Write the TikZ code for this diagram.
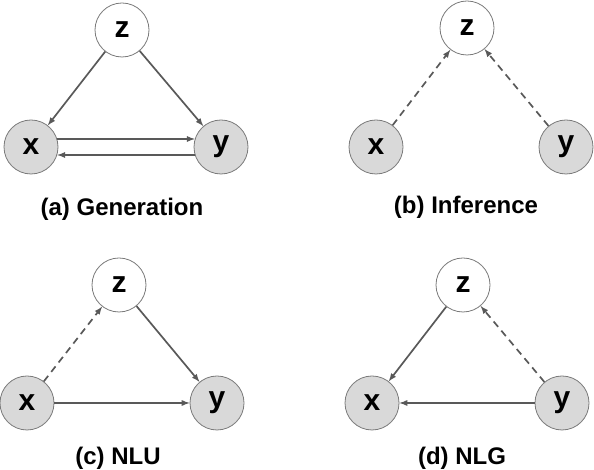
\documentclass[tikz,border=0pt]{standalone}
\usepackage{fontspec}
\setmainfont{Liberation Sans}
\definecolor{edgegray}{HTML}{595959}
\definecolor{obsfill}{HTML}{D9D9D9}
\tikzset{
  latent/.style={circle,draw=edgegray!80,line width=0.8pt,fill=white,minimum size=54pt,inner sep=0pt,font=\fontsize{30}{32}\selectfont\bfseries},
  observed/.style={latent,fill=obsfill},
  caption/.style={font=\fontsize{24}{26}\selectfont\bfseries},
  gen/.style={draw=edgegray,line width=1.7pt,-latex},
  inf/.style={gen,dash pattern=on 7pt off 5pt}
}
\begin{document}
\begin{tikzpicture}[x=1pt,y=1pt]
\useasboundingbox (0,0) rectangle (594,470);
% (a) generation
\node[latent] (za) at (122,440) {z};
\node[observed] (xa) at (31,323) {x};
\node[observed] (ya) at (221,323) {y};
\draw[gen] (za) -- (xa);
\draw[gen] (za) -- (ya);
\draw[gen] (xa.17) -- (ya.163);
\draw[gen] (ya.197) -- (xa.-17);
\node[caption] (capa) at (122,261) {(a) Generation};
% (b) inference
\node[latent] (zb) at (467,442) {z};
\node[observed] (xb) at (376,323) {x};
\node[observed] (yb) at (566,323) {y};
\draw[inf] (xb) -- (zb);
\draw[inf] (yb) -- (zb);
\node[caption] (capb) at (466,263) {(b) Inference};
% (c) NLU
\node[latent] (zc) at (119,185) {z};
\node[observed] (xc) at (27,67) {x};
\node[observed] (yc) at (217,67) {y};
\draw[inf] (xc) -- (zc);
\draw[gen] (zc) -- (yc);
\draw[gen] (xc) -- (yc);
\node[caption] (capc) at (118,12) {(c) NLU};
% (d) NLG
\node[latent] (zd) at (463,185) {z};
\node[observed] (xd) at (372,67) {x};
\node[observed] (yd) at (562,67) {y};
\draw[gen] (zd) -- (xd);
\draw[inf] (yd) -- (zd);
\draw[gen] (yd) -- (xd);
\node[caption] (capd) at (462,12) {(d) NLG};
\end{tikzpicture}
\end{document}
